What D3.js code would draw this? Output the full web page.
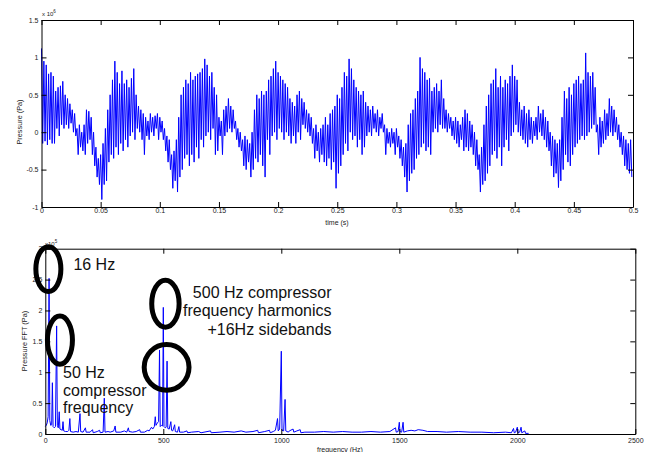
<!DOCTYPE html>
<html>
<head>
<meta charset="utf-8">
<script src="https://cdn.jsdelivr.net/npm/d3@7/dist/d3.min.js"></script>
<style>
  body { margin: 0; background: #fff; }
  svg { display: block; font-family: "Liberation Sans", Arial, sans-serif; }
</style>
</head>
<body>
<div id="chart"></div>
<script>
// Time signal (x10^6 Pa), sampled every 1 ms: peaks on even ms, troughs on odd ms
const sampleStep = 0.001;
const timePeaks = [
  1.12,0.95,0.9,0.78,0.8,  0.75,0.55,0.6,0.62,0.68,  0.5,0.45,0.38,0.3,0.25,  0.05,0.1,0.0,0.1,0.3,
  0.28,0.2,0.0,-0.2,-0.35,  -0.3,-0.15,0.05,0.3,0.5,  0.7,0.95,0.8,0.65,0.82,  0.65,0.7,0.6,0.72,0.85,
  0.5,0.35,0.3,0.25,0.2,  0.15,0.25,0.2,0.22,0.25,  0.2,0.15,0.05,-0.05,-0.1,  -0.3,-0.25,-0.1,0.2,0.5,
  0.6,0.7,0.65,0.8,0.7,  0.75,0.78,0.8,0.85,0.98,  0.9,0.75,0.8,0.6,0.5,  0.2,0.15,0.3,0.35,0.45,
  0.35,0.3,0.15,0.05,0.0,  -0.1,-0.05,-0.1,-0.15,0.0,  0.3,0.5,0.45,0.55,0.5,  0.55,0.7,0.75,0.85,0.95,
  0.8,0.75,0.7,0.65,0.6,  0.45,0.4,0.35,0.5,0.55,  0.45,0.4,0.3,0.25,0.2,  0.05,0.1,0.0,0.05,0.1,
  0.2,0.1,0.25,0.3,0.35,  0.5,0.45,0.6,0.8,0.75,  0.98,0.85,0.7,0.6,0.55,  0.5,0.55,0.4,0.35,0.3,
  0.35,0.25,0.3,0.2,0.25,  0.1,0.05,0.0,0.05,0.0,  0.05,-0.05,-0.1,-0.2,-0.15,  0.1,0.25,0.3,0.45,0.55,
  1.0,0.85,0.8,0.7,0.72,  0.55,0.6,0.65,0.55,0.7,  0.45,0.3,0.25,0.2,0.15,  0.2,0.15,0.1,0.2,0.3,
  0.25,0.15,0.1,0.0,-0.1,  -0.3,-0.2,0.1,0.35,0.5,  0.65,0.7,0.85,0.6,0.75,  0.6,0.7,0.65,0.75,0.9,
  0.75,0.7,0.4,0.3,0.35,  0.25,0.3,0.2,0.15,0.2,  0.35,0.25,0.3,0.2,0.15,  0.0,-0.05,-0.1,-0.15,-0.1,
  0.2,0.55,0.45,0.6,0.5,  0.65,0.7,0.75,0.65,0.7,  1.06,0.8,0.75,0.8,0.6,  0.1,0.2,0.15,0.3,0.25,
  0.45,0.35,0.3,0.2,0.1,  0.0,-0.05,-0.1,-0.15,-0.1
];
const timeTroughs = [
  -0.15,-0.12,-0.17,-0.1,-0.15,  -0.15,0.05,-0.05,0.1,0.05,  0.1,0.05,0.12,0.0,-0.05,  -0.3,-0.2,-0.25,-0.3,-0.15,
  -0.1,-0.3,-0.45,-0.6,-0.7,  -0.9,-0.7,-0.65,-0.4,-0.3,  -0.35,-0.2,-0.3,-0.15,-0.25,  -0.1,-0.2,-0.05,0.0,-0.1,
  0.05,0.0,-0.1,-0.3,-0.05,  -0.1,0.0,-0.05,0.05,-0.1,  0.0,-0.1,-0.25,-0.4,-0.5,  -0.75,-0.65,-0.8,-0.6,-0.5,
  -0.35,-0.3,-0.45,-0.3,-0.4,  -0.2,-0.35,-0.1,-0.2,-0.05,  0.0,-0.1,0.05,-0.3,-0.25,  -0.05,-0.3,-0.05,0.0,0.05,
  0.0,0.05,-0.1,-0.2,-0.25,  -0.45,-0.5,-0.4,-0.6,-0.5,  -0.35,-0.4,-0.3,-0.45,-0.6,  -0.1,-0.3,-0.05,0.0,-0.1,
  0.05,0.0,-0.1,0.0,-0.05,  -0.15,-0.05,-0.15,0.0,-0.1,  0.1,0.05,0.0,-0.05,-0.15,  -0.35,-0.25,-0.4,-0.3,-0.4,
  -0.45,-0.35,-0.5,-0.4,-0.75,  -0.55,-0.45,-0.3,-0.15,-0.25,  0.0,-0.1,-0.05,-0.2,-0.1,  -0.3,-0.2,-0.05,0.0,-0.05,
  0.05,0.0,-0.05,0.05,0.0,  -0.3,-0.15,-0.2,-0.15,-0.3,  -0.2,-0.35,-0.45,-0.6,-0.8,  -0.65,-0.55,-0.5,-0.35,-0.3,
  -0.2,-0.15,-0.25,-0.2,-0.3,  0.0,0.05,0.0,0.1,0.05,  0.05,0.0,0.05,-0.05,-0.1,  -0.15,-0.2,-0.1,-0.25,-0.2,
  -0.25,-0.2,-0.3,-0.45,-0.5,  -0.8,-0.7,-0.65,-0.55,-0.45,  -0.3,-0.25,-0.35,-0.2,-0.45,  -0.2,-0.1,-0.25,-0.05,0.0,
  0.1,0.0,-0.05,-0.1,-0.15,  -0.2,-0.1,-0.15,-0.05,-0.1,  0.0,-0.05,-0.1,-0.2,-0.25,  -0.45,-0.6,-0.55,-0.74,-0.65,
  -0.5,-0.3,-0.4,-0.45,-0.3,  -0.2,-0.15,-0.1,-0.05,-0.1,  -0.05,0.0,0.05,0.1,0.0,  -0.3,-0.2,-0.15,-0.1,-0.05,
  0.0,-0.05,0.0,-0.1,-0.2,  -0.3,-0.45,-0.5,-0.55,-0.6
];
const timeTicks = [0, 0.05, 0.1, 0.15, 0.2, 0.25, 0.3, 0.35, 0.4, 0.45, 0.5];
const timeTickLabels = ["0", "0.05", "0.1", "0.15", "0.2", "0.25", "0.3", "0.35", "0.4", "0.45", "0.5"];
const pressureTicks = [-1, -0.5, 0, 0.5, 1, 1.5];
const pressureTickLabels = ["-1", "-0.5", "0", "0.5", "1", "1.5"];

// FFT magnitude (x10^5 Pa) against frequency (Hz)
const fftFreq = [
  0,4,8,12,16,19,23,27,30,33,38,43,48,51,55,59,62,67,72,75,78,86,95,100,104,107,118,130,140,147,150,160,170,173,190,
  200,203,220,230,233,245,250,253,266,275,290,296,299,320,335,345,352,355,370,385,400,403,420,434,440,450,455,462,466,469,
  475,480,484,487,492,497,500,503,508,512,516,519,525,532,535,540,548,551,560,566,569,585,600,603,620,650,660,700,703,
  740,770,800,830,850,880,900,903,930,950,953,966,975,984,987,993,1000,1003,1010,1016,1019,1030,1034,1050,1053,1066,1080,1083,
  1100,1140,1180,1220,1260,1300,1340,1380,1420,1460,1484,1487,1495,1500,1503,1510,1516,1519,1534,1550,1566,1580,1600,
  1620,1660,1700,1750,1800,1850,1900,1950,1975,1984,1987,1993,2000,2003,2010,2016,2019,2032,2035,2048
];
const fftAmp = [
  0.12,0.14,0.18,0.28,2.52,0.22,0.14,0.15,0.83,0.12,0.1,0.12,1.75,0.14,0.1,0.36,0.08,0.07,0.06,0.2,0.05,0.04,0.04,0.06,0.25,0.04,0.03,0.04,0.03,0.33,0.04,0.03,0.1,0.03,0.03,
  0.07,0.02,0.04,0.06,0.02,0.03,0.58,0.03,0.04,0.03,0.05,0.13,0.03,0.03,0.05,0.03,0.1,0.04,0.03,0.04,0.07,0.03,0.03,0.06,0.05,0.11,0.08,0.12,0.28,0.14,
  0.18,0.2,1.36,0.12,0.14,0.13,2.05,0.12,0.1,0.11,1.18,0.09,0.08,0.2,0.06,0.05,0.15,0.04,0.03,0.12,0.03,0.03,0.05,0.02,0.03,0.04,0.02,0.05,0.02,
  0.03,0.04,0.03,0.05,0.03,0.04,0.06,0.02,0.04,0.06,0.02,0.04,0.06,0.25,0.05,0.08,1.34,0.06,0.05,0.56,0.05,0.03,0.05,0.08,0.03,0.05,0.07,0.02,
  0.03,0.03,0.04,0.03,0.04,0.03,0.03,0.04,0.03,0.04,0.1,0.03,0.04,0.19,0.04,0.03,0.19,0.03,0.05,0.06,0.05,0.07,0.06,
  0.04,0.04,0.03,0.04,0.03,0.03,0.02,0.03,0.02,0.09,0.02,0.03,0.11,0.02,0.03,0.11,0.02,0.05,0.01,0.01
];
const freqTicks = [0, 500, 1000, 1500, 2000, 2500];
const freqTickLabels = ["0", "500", "1000", "1500", "2000", "2500"];
const fftTicks = [0, 0.5, 1, 1.5, 2, 2.5, 3];
const fftTickLabels = ["0", "0.5", "1", "1.5", "2", "2.5", "3"];

// annotations on the spectrum, in data units (Hz, x10^5 Pa)
const ringFreq = [13, 62, 509, 514];
const ringAmp = [2.67, 1.52, 2.11, 1.08];
const ringHalfWidth = [53, 53, 58, 95];
const ringHalfHeight = [0.363, 0.39, 0.38, 0.37];
const noteLines = [
  ["16 Hz"],
  ["50 Hz", "compressor", "frequency"],
  ["500 Hz compressor", "frequency harmonics", "+16Hz sidebands"]
];
const noteFreq = [119, 75, 1213];
const noteAmp = [2.65, 0.9, 2.2];
const noteAnchor = ["start", "start", "end"];

const width = 645;
const height = 452;

const svg = d3.select("#chart")
  .append("svg")
  .attr("width", width)
  .attr("height", height);

// Draws a MATLAB-like boxed axes with inward ticks on all four sides
function drawFrame(g, x, y, xt, xl, yt, yl, xPad, yPad) {
  const [x0, x1] = x.range();
  const [y0, y1] = y.range();

  const bottom = g.append("g")
    .attr("transform", `translate(0,${y0})`)
    .call(d3.axisBottom(x).tickValues(xt).tickFormat((d, i) => xl[i])
      .tickSizeInner(-5).tickSizeOuter(0).tickPadding(xPad));
  const left = g.append("g")
    .attr("transform", `translate(${x0},0)`)
    .call(d3.axisLeft(y).tickValues(yt).tickFormat((d, i) => yl[i])
      .tickSizeInner(-5).tickSizeOuter(0).tickPadding(yPad));
  const top = g.append("g")
    .attr("transform", `translate(0,${y1})`)
    .call(d3.axisTop(x).tickValues(xt).tickFormat("")
      .tickSizeInner(-5).tickSizeOuter(0));
  const right = g.append("g")
    .attr("transform", `translate(${x1},0)`)
    .call(d3.axisRight(y).tickValues(yt).tickFormat("")
      .tickSizeInner(-5).tickSizeOuter(0));

  [bottom, left, top, right].forEach(a => {
    a.select(".domain").attr("stroke", "#000").attr("stroke-width", 1);
    a.selectAll(".tick line").attr("stroke", "#000");
    a.selectAll("text")
      .attr("font-family", "'Liberation Sans', Arial, sans-serif")
      .attr("font-size", 7)
      .attr("fill", "#222");
  });
}

// ---- top panel: pressure vs time
const timeX = d3.scaleLinear().domain([0, 0.5]).range([41.5, 633]);
const timeY = d3.scaleLinear().domain([-1, 1.5]).range([207, 20]);

const timeSeries = [];
timePeaks.forEach((p, i) => {
  timeSeries.push([2 * i * sampleStep, p]);
  timeSeries.push([(2 * i + 1) * sampleStep, timeTroughs[i]]);
});

const topPanel = svg.append("g");

topPanel.append("path")
  .datum(timeSeries)
  .attr("fill", "none")
  .attr("stroke", "#0000ff")
  .attr("stroke-width", 1)
  .attr("stroke-linejoin", "round")
  .attr("d", d3.line().x(d => timeX(d[0])).y(d => timeY(d[1])));

drawFrame(topPanel, timeX, timeY, timeTicks, timeTickLabels, pressureTicks, pressureTickLabels, 1, 3);

topPanel.append("text")
  .attr("x", 337)
  .attr("y", 225)
  .attr("text-anchor", "middle")
  .attr("font-size", 7)
  .attr("fill", "#222")
  .text("time (s)");

topPanel.append("text")
  .attr("transform", "translate(22,122) rotate(-90)")
  .attr("text-anchor", "middle")
  .attr("font-size", 7.3)
  .attr("fill", "#222")
  .text("Pressure (Pa)");

const exp1 = topPanel.append("text")
  .attr("x", 42)
  .attr("y", 16)
  .attr("font-size", 6)
  .attr("fill", "#222");
exp1.append("tspan").text("x 10");
exp1.append("tspan").attr("dy", -3).attr("font-size", 4.5).text("6");

// ---- bottom panel: spectrum
const freqX = d3.scaleLinear().domain([0, 2500]).range([45.3, 635.3]);
const ampY = d3.scaleLinear().domain([0, 3]).range([434, 248.7]);

const bottomPanel = svg.append("g");

bottomPanel.append("path")
  .datum(fftFreq.map((f, i) => [f, fftAmp[i]]))
  .attr("fill", "none")
  .attr("stroke", "#0000ff")
  .attr("stroke-width", 1)
  .attr("d", d3.line().x(d => freqX(d[0])).y(d => ampY(d[1])));

drawFrame(bottomPanel, freqX, ampY, freqTicks, freqTickLabels, fftTicks, fftTickLabels, 4, 3);

bottomPanel.append("text")
  .attr("x", 340)
  .attr("y", 452)
  .attr("text-anchor", "middle")
  .attr("font-size", 7)
  .attr("fill", "#222")
  .text("frequency (Hz)");

bottomPanel.append("text")
  .attr("transform", "translate(27,341) rotate(-90)")
  .attr("text-anchor", "middle")
  .attr("font-size", 7.3)
  .attr("fill", "#222")
  .text("Pressure FFT (Pa)");

const exp2 = bottomPanel.append("text")
  .attr("x", 45)
  .attr("y", 246)
  .attr("font-size", 6)
  .attr("fill", "#222");
exp2.append("tspan").text("x10");
exp2.append("tspan").attr("dy", -3).attr("font-size", 4.5).text("5");

// annotation rings
bottomPanel.selectAll("ellipse")
  .data(ringFreq)
  .enter()
  .append("ellipse")
  .attr("cx", d => freqX(d))
  .attr("cy", (d, i) => ampY(ringAmp[i]))
  .attr("rx", (d, i) => freqX(ringHalfWidth[i]) - freqX(0))
  .attr("ry", (d, i) => ampY(0) - ampY(ringHalfHeight[i]))
  .attr("fill", "none")
  .attr("stroke", "#000")
  .attr("stroke-width", 5);

// annotation text
noteLines.forEach((lines, i) => {
  const t = bottomPanel.append("text")
    .attr("x", freqX(noteFreq[i]))
    .attr("y", ampY(noteAmp[i]))
    .attr("text-anchor", noteAnchor[i])
    .attr("font-size", 16)
    .attr("fill", "#111");
  lines.forEach((line, j) => {
    t.append("tspan")
      .attr("x", freqX(noteFreq[i]))
      .attr("dy", j === 0 ? 0 : (i === 2 ? 18.3 : 17.2))
      .text(line);
  });
});
</script>
</body>
</html>
